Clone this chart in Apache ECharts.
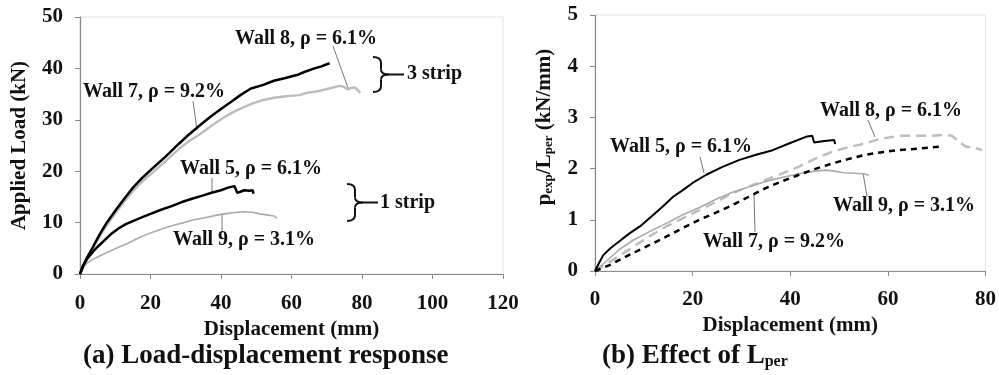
<!DOCTYPE html>
<html>
<head>
<meta charset="utf-8">
<title>Wall load-displacement</title>
<script src="https://cdn.jsdelivr.net/npm/echarts@6/dist/echarts.min.js"></script>
<style>
  html, body { margin: 0; padding: 0; background: #fff; }
</style>
</head>
<body>
<div id="main" style="width: 999px;height:375px;"></div>
<script type="text/javascript">
// ---- data (x = displacement mm) ----
// (a) applied load, kN
var loadWall7 = [[0,0],[1,1.8],[2,3.2],[3.7,5.3],[5.5,7.6],[7.5,9.9],[10,12.3],[12.5,14.6],[14.9,16.7],[17.5,18.6],[20,20.2],[24.2,22.8],[28,25.3],[31,27.2],[33.6,28.7],[37,30.6],[40,32.1],[42.9,33.5],[45.5,34.8],[48.5,36.1],[52,36.8],[55,37.6],[58,38.1],[61.5,38.7],[64,39.4],[66.5,40.0],[68.5,40.4],[70,40.8],[70.8,41.0]];
var loadWall8 = [[0,0],[1,1.6],[2,3.0],[3.7,5.0],[5.5,7.2],[7.5,9.4],[10,11.8],[12.5,14.0],[14.9,16.0],[17.5,17.9],[20,19.4],[24.2,21.9],[28,24.3],[31,25.9],[33.6,27.0],[37,28.7],[40,30.1],[42.9,31.3],[46,32.3],[49,33.2],[52.2,33.9],[55,34.3],[58.5,34.6],[62.3,34.8],[64,35.2],[67,35.5],[69.5,35.9],[71.8,36.3],[73.5,36.6],[74.6,36.5],[76,35.9],[77,36.2],[78,36.3],[78.8,35.8],[79.5,35.2]];
var loadWall5 = [[0,0],[1,1.8],[2,2.9],[3.5,4.2],[5,5.3],[7,6.6],[9,7.9],[11,8.9],[13,9.7],[15,10.3],[17.5,11.0],[20,11.7],[23,12.5],[26,13.2],[28.9,14.0],[32,14.7],[35,15.3],[37.3,15.8],[40,16.3],[42,16.8],[43.8,17.1],[44.3,16.9],[44.6,15.8],[45.5,16.0],[46.6,16.3],[48,16.2],[49,16.3],[49.2,15.6]];
var loadWall9 = [[0,0],[1,1.3],[2,2.1],[3.5,2.8],[5.6,3.5],[8,4.3],[10.3,5.0],[13,5.8],[16,6.8],[19.6,7.9],[23,8.7],[26,9.4],[28.9,9.9],[32,10.5],[35,10.9],[39.2,11.5],[42,11.8],[44.5,12.0],[46.6,12.1],[49,12.0],[51,11.7],[53,11.5],[55,11.3],[55.9,10.8]];
// (b) p_exp / L_per, kN/mm
var normWall5 = [[0,0],[0.8,0.15],[1.7,0.31],[3.1,0.44],[5,0.58],[7,0.73],[9.2,0.87],[11.5,1.06],[14,1.27],[16,1.45],[18,1.58],[20,1.72],[22.8,1.88],[26,2.03],[29.6,2.17],[33,2.27],[36.4,2.36],[40,2.5],[43.2,2.62],[44.5,2.64],[44.9,2.51],[47,2.54],[49,2.56],[49.2,2.48]];
var normWall8 = [[0,0],[2.4,0.14],[5,0.3],[7.8,0.47],[11,0.67],[14.6,0.87],[18,1.03],[21.4,1.19],[25,1.36],[28.2,1.52],[31.5,1.65],[35,1.78],[38.5,1.91],[41.8,2.04],[45,2.19],[48.6,2.33],[52,2.42],[55.4,2.49],[58,2.57],[62.2,2.64],[66,2.64],[69,2.64],[71.8,2.66],[73.1,2.64],[75.9,2.43],[78,2.4],[79.3,2.36]];
var normWall9 = [[0,0],[2.4,0.2],[5,0.42],[7.8,0.6],[11,0.76],[14.6,0.93],[18,1.1],[21.4,1.24],[25,1.41],[28.2,1.54],[31.5,1.64],[35,1.75],[38.5,1.83],[41.8,1.9],[45,1.95],[47.3,1.97],[49,1.95],[51,1.92],[53,1.91],[55,1.9],[56.1,1.87]];
var normWall7 = [[0,0],[3.1,0.12],[5.5,0.24],[7.8,0.35],[11,0.5],[14.6,0.67],[18,0.84],[21.4,1.0],[25,1.15],[28.2,1.29],[31.5,1.45],[35,1.62],[38.5,1.76],[41.8,1.88],[45,1.99],[48.6,2.10],[52,2.19],[55.4,2.27],[58.8,2.32],[62.2,2.36],[66,2.39],[71.1,2.43]];

var serif = '"Liberation Serif", "Times New Roman", serif';
var ink = '#111';

function axisBase(extra) {
    var a = {
        axisLine: { show: true, lineStyle: { color: '#8a8a8a', width: 1.2 } },
        axisTick: { show: true, length: 5, lineStyle: { color: '#8a8a8a' } },
        splitLine: { show: false },
        axisLabel: { color: ink, fontFamily: serif, fontWeight: 'bold', fontSize: 21, margin: 17 },
        nameLocation: 'middle',
        nameTextStyle: { color: ink, fontFamily: serif, fontWeight: 'bold', fontSize: 21 }
    };
    for (var k in extra) a[k] = extra[k];
    return a;
}

function txt(x, y, s, size) {
    return {
        type: 'text', x: x, y: y,
        style: { text: s, fill: ink, font: 'bold ' + (size || 20) + 'px ' + serif, verticalAlign: 'middle', align: 'left' }
    };
}
function leader(x1, y1, x2, y2) {
    return { type: 'line', shape: { x1: x1, y1: y1, x2: x2, y2: y2 }, style: { stroke: '#777', lineWidth: 1 } };
}
// curly brace "}" built from quadratic curves, with a short tail to the text
function brace(x, y1, y2, len) {
    var m = (y1 + y2) / 2, w = 8, st = { stroke: ink, lineWidth: 2, fill: null };
    function q(ax, ay, cx, cy, bx, by) {
        return { type: 'bezierCurve', shape: { x1: ax, y1: ay, cpx1: cx, cpy1: cy, x2: bx, y2: by }, style: st };
    }
    return {
        type: 'group',
        children: [
            q(x, y1, x + w, y1, x + w, y1 + 6),
            { type: 'line', shape: { x1: x + w, y1: y1 + 6, x2: x + w, y2: m - 5 }, style: st },
            q(x + w, m - 5, x + w, m, x + w + 8, m),
            q(x + w + 8, m, x + w, m, x + w, m + 5),
            { type: 'line', shape: { x1: x + w, y1: m + 5, x2: x + w, y2: y2 - 6 }, style: st },
            q(x + w, y2 - 6, x + w, y2, x, y2),
            { type: 'line', shape: { x1: x + w + 8, y1: m, x2: x + w + 8 + len, y2: m }, style: st }
        ]
    };
}

var myChart = echarts.init(document.getElementById('main'));

var option = {
    animation: false,
    backgroundColor: '#fff',
    grid: [
        { left: 80, right: 496, top: 17, bottom: 101, show: true, borderColor: '#e2e2e2', borderWidth: 1 },
        { left: 595, right: 12, top: 15, bottom: 104, show: true, borderColor: '#e2e2e2', borderWidth: 1 }
    ],
    xAxis: [
        axisBase({ gridIndex: 0, type: 'value', min: 0, max: 120, interval: 20, name: 'Displacement (mm)', nameGap: 32,
            axisLabel: { color: ink, fontFamily: serif, fontWeight: 'bold', fontSize: 21, margin: 19 } }),
        axisBase({ gridIndex: 1, type: 'value', min: 0, max: 80, interval: 20, name: 'Displacement (mm)', nameGap: 36,
            axisLabel: { color: ink, fontFamily: serif, fontWeight: 'bold', fontSize: 21, margin: 18 } })
    ],
    yAxis: [
        axisBase({ gridIndex: 0, type: 'value', min: 0, max: 50, interval: 10, name: 'Applied Load (kN)', nameGap: 50 }),
        axisBase({
            gridIndex: 1, type: 'value', min: 0, max: 5, interval: 1, nameGap: 40,
            name: '{a|p}{s|exp}{a|/L}{s|per}{a| (kN/mm)}',
            nameTextStyle: {
                padding: [0, 0, 0, 32],
                rich: {
                    a: { color: ink, fontFamily: serif, fontWeight: 'bold', fontSize: 21 },
                    s: { color: ink, fontFamily: serif, fontWeight: 'bold', fontSize: 13, verticalAlign: 'bottom', padding: [8, 0, 0, 0] }
                }
            }
        })
    ],
    series: [
        { name: 'Wall 8 (a)', type: 'line', xAxisIndex: 0, yAxisIndex: 0, data: loadWall8, showSymbol: false, lineStyle: { color: '#bdbdbd', width: 2.5 } },
        { name: 'Wall 9 (a)', type: 'line', xAxisIndex: 0, yAxisIndex: 0, data: loadWall9, showSymbol: false, lineStyle: { color: '#ababab', width: 1.6 } },
        { name: 'Wall 7 (a)', type: 'line', xAxisIndex: 0, yAxisIndex: 0, data: loadWall7, showSymbol: false, lineStyle: { color: '#000', width: 2.5 } },
        { name: 'Wall 5 (a)', type: 'line', xAxisIndex: 0, yAxisIndex: 0, data: loadWall5, showSymbol: false, lineStyle: { color: '#000', width: 2.5 } },

        { name: 'Wall 8 (b)', type: 'line', xAxisIndex: 1, yAxisIndex: 1, data: normWall8, showSymbol: false, lineStyle: { color: '#bdbdbd', width: 2.5, type: [10, 6] } },
        { name: 'Wall 9 (b)', type: 'line', xAxisIndex: 1, yAxisIndex: 1, data: normWall9, showSymbol: false, lineStyle: { color: '#ababab', width: 1.6 } },
        { name: 'Wall 7 (b)', type: 'line', xAxisIndex: 1, yAxisIndex: 1, data: normWall7, showSymbol: false, lineStyle: { color: '#000', width: 2.5, type: [6, 5] } },
        { name: 'Wall 5 (b)', type: 'line', xAxisIndex: 1, yAxisIndex: 1, data: normWall5, showSymbol: false, lineStyle: { color: '#000', width: 2 } }
    ],
    graphic: [
        // (a) labels
        txt(235, 39, 'Wall 8, ρ = 6.1%'), leader(333, 46, 348, 88),
        txt(83, 92, 'Wall 7, ρ = 9.2%'), leader(193, 101, 197, 130),
        txt(180, 169, 'Wall 5, ρ = 6.1%'), leader(212, 178, 212, 192),
        txt(173, 240, 'Wall 9, ρ = 3.1%'), leader(222, 213, 222, 231),
        brace(373, 57, 92, 15), txt(407, 74, '3 strip'),
        brace(347, 184, 221, 15), txt(380, 203, '1 strip'),
        // (b) labels
        txt(820, 111, 'Wall 8, ρ = 6.1%'), leader(868, 120, 875, 137),
        txt(610, 147, 'Wall 5, ρ = 6.1%'), leader(700, 157, 704, 173),
        txt(833, 206, 'Wall 9, ρ = 3.1%'), leader(863, 173, 867, 196),
        txt(703, 242, 'Wall 7, ρ = 9.2%'), leader(754, 195, 755, 232),
        // captions
        txt(83, 356, '(a) Load-displacement response', 27),
        {
            type: 'text', x: 602, y: 356,
            style: {
                text: '{a|(b) Effect of L}{s|per}', verticalAlign: 'middle',
                rich: {
                    a: { fill: ink, fontFamily: serif, fontWeight: 'bold', fontSize: 27 },
                    s: { fill: ink, fontFamily: serif, fontWeight: 'bold', fontSize: 16, verticalAlign: 'bottom', padding: [10, 0, 0, 0] }
                }
            }
        }
    ]
};

myChart.setOption(option);
</script>
</body>
</html>
